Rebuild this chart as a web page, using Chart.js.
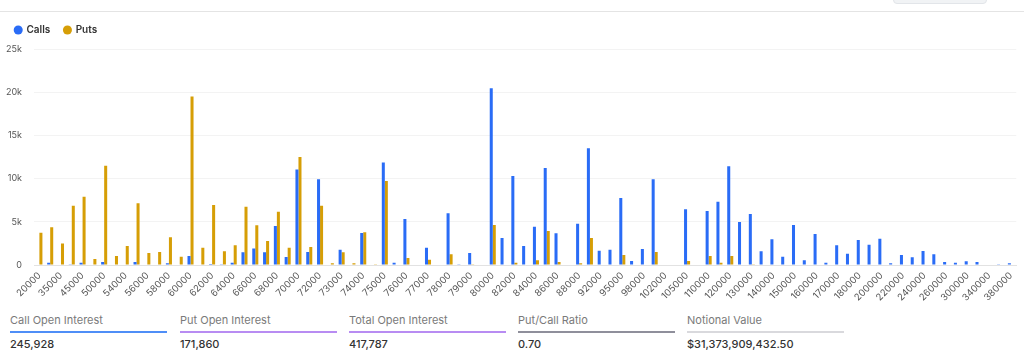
<!DOCTYPE html>
<html>
<head>
<meta charset="utf-8">
<script src="https://cdn.jsdelivr.net/npm/chart.js@4.4.1/dist/chart.umd.min.js"></script>
<style>
  html, body { margin: 0; padding: 0; background: #fff; }
  body { width: 1024px; height: 362px; position: relative; overflow: hidden; font-family: Inter, "Noto Sans", sans-serif; }
  #topline { position: absolute; left: 0; top: 11px; width: 1024px; height: 1px; background: #e4e4e4; }
  #topbox { position: absolute; left: 893px; top: -10px; width: 94px; height: 14px; background: #f1f3f5; border: 1px solid #e2e5e9; border-radius: 4px; box-sizing: border-box; }
  #wrap { position: absolute; left: 0; top: 11px; width: 1024px; height: 291px; }
  .stat { position: absolute; top: 313px; width: 157px; }
  .stat .t { font-size: 11px; color: #7a7a7a; line-height: 14px; height: 14px; white-space: nowrap; }
  .stat .u { margin-top: 4px; height: 2px; }
  .stat .v { margin-top: 4px; font-size: 11px; color: #333; font-weight: 500; line-height: 14px; white-space: nowrap; }
</style>
</head>
<body>
<div id="topline"></div>
<div id="topbox"></div>
<div id="wrap"><canvas id="c"></canvas></div>
<div id="stats"></div>
<script>
// ---- Data ----
const strikes = [
  "20000","30000","35000","40000","45000","48000","50000","52000","54000","55000",
  "56000","57000","58000","59000","60000","61000","62000","63000","64000","65000",
  "66000","67000","68000","69000","70000","71000","72000","72500","73000","73500",
  "74000","74500","75000","75500","76000","76500","77000","77500","78000","78500",
  "79000","79500","80000","81000","82000","83000","84000","85000","86000","87000",
  "88000","90000","92000","94000","95000","96000","98000","100000","102000","104000",
  "105000","108000","110000","115000","120000","125000","130000","135000","140000","145000",
  "150000","155000","160000","165000","170000","175000","180000","190000","200000","210000",
  "220000","230000","240000","250000","260000","280000","300000","320000","340000","360000",
  "380000"
];
const calls = [
  0, 270, 0, 100, 270, 0, 350, 0, 0, 350,
  0, 0, 200, 0, 1040, 0, 120, 100, 270, 1470,
  1900, 1470, 4500, 930, 11040, 1500, 9920, 0, 1770, 0,
  3700, 0, 11850, 270, 5330, 0, 2000, 0, 6000, 100,
  1390, 0, 20460, 3130, 10300, 2200, 4440, 11230, 3670, 0,
  4780, 13500, 1660, 1770, 7760, 460, 1850, 9920, 0, 0,
  6450, 0, 6250, 7330, 11430, 4980, 5900, 1580, 2970, 960,
  4630, 540, 3590, 270, 2280, 1310, 2900, 2350, 3050, 200,
  1160, 890, 1620, 1240, 350, 270, 420, 350, 0, 100,
  200
];
const puts = [
  3740, 4370, 2500, 6870, 7900, 700, 11500, 1040, 2200, 7140,
  1390, 1500, 3200, 960, 19500, 2000, 6950, 1600, 2300, 6750,
  4600, 2780, 6170, 2000, 12500, 2080, 6870, 200, 1470, 200,
  3780, 80, 9730, 0, 800, 0, 600, 0, 1240, 0,
  100, 0, 4630, 0, 270, 0, 540, 3940, 350, 0,
  200, 3130, 0, 0, 1160, 0, 0, 1500, 0, 0,
  460, 0, 1040, 270, 1040, 0, 100, 0, 0, 0,
  0, 0, 0, 0, 0, 0, 0, 0, 0, 0,
  0, 0, 0, 0, 0, 0, 0, 0, 0, 0,
  0
];
const yTicks = [0, 5000, 10000, 15000, 20000, 25000];
const statTitles = ["Call Open Interest", "Put Open Interest", "Total Open Interest", "Put/Call Ratio", "Notional Value"];
const statValues = ["245,928", "171,860", "417,787", "0.70", "$31,373,909,432.50"];

// ---- Style ----
const BLUE = '#2a6cf6';
const GOLD = '#d69e06';
const statLineColors = ['#4f8ef7', '#b88cf2', '#b88cf2', '#8f8f9b', '#d9d9dd'];
const statLefts = [10, 180, 349, 518, 687];

const stats = document.getElementById('stats');
statTitles.forEach((t, i) => {
  const d = document.createElement('div');
  d.className = 'stat';
  d.style.left = statLefts[i] + 'px';
  d.innerHTML = '<div class="t"></div><div class="u"></div><div class="v"></div>';
  d.querySelector('.t').textContent = t;
  d.querySelector('.u').style.background = statLineColors[i];
  d.querySelector('.v').textContent = statValues[i];
  stats.appendChild(d);
});

const legendSpacer = {
  id: 'legendSpacer',
  beforeLayout(chart) {
    const lg = chart.legend;
    if (!lg || lg._spaced) return;
    const fit = lg.fit;
    lg.fit = function () { fit.call(this); this.height += 4; };
    lg._spaced = true;
  }
};

Chart.defaults.font.family = 'Inter, "Noto Sans", sans-serif';

new Chart(document.getElementById('c'), {
  type: 'bar',
  data: {
    labels: strikes,
    datasets: [
      { label: 'Calls', data: calls, backgroundColor: BLUE, borderWidth: 0 },
      { label: 'Puts', data: puts, backgroundColor: GOLD, borderWidth: 0 }
    ]
  },
  plugins: [legendSpacer],
  options: {
    responsive: true,
    maintainAspectRatio: false,
    animation: false,
    layout: { padding: { left: 1, right: 7, top: 0, bottom: 0 } },
    datasets: { bar: { categoryPercentage: 0.56, barPercentage: 1.0 } },
    plugins: {
      tooltip: { enabled: false },
      legend: {
        display: true,
        position: 'top',
        align: 'start',
        labels: {
          usePointStyle: true,
          pointStyle: 'circle',
          boxWidth: 6.4,
          boxHeight: 6.4,
          padding: 14,
          color: '#333',
          font: { size: 10, weight: '600' }
        }
      }
    },
    scales: {
      x: {
        grid: { display: false, drawTicks: false },
        border: { display: true, color: '#e2e2e2' },
        ticks: {
          autoSkip: false,
          minRotation: 45,
          maxRotation: 45,
          padding: 5,
          color: '#555',
          font: { size: 9.5 },
          callback: function (v, i) { return i % 2 === 0 ? strikes[i] : ''; }
        },
        afterFit: (s) => { s.height = 37; }
      },
      y: {
        min: 0,
        max: 25000,
        afterBuildTicks: (s) => { s.ticks = yTicks.map(v => ({ value: v })); },
        grid: { color: '#f3f3f3', drawTicks: false },
        border: { display: false },
        ticks: {
          padding: 12,
          color: '#555',
          font: { size: 9 },
          callback: (v) => v === 0 ? '0' : (v / 1000) + 'k'
        },
        afterFit: (s) => { s.width = 33; }
      }
    }
  }
});
</script>
</body>
</html>
